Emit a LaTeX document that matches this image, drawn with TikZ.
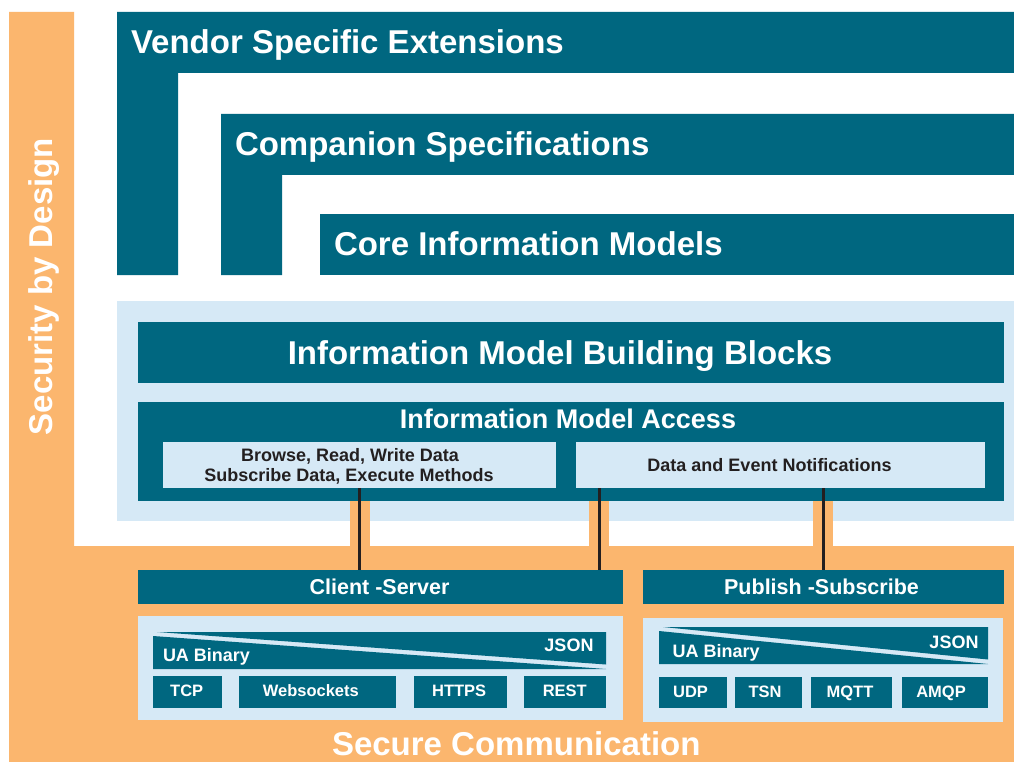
\documentclass[tikz,border=0pt]{standalone}
\usepackage{fontspec}
\setmainfont{Liberation Sans}
\definecolor{teal1}{RGB}{0,103,128}
\definecolor{lblue}{RGB}{214,233,246}
\definecolor{orng}{RGB}{251,182,110}
\definecolor{ink}{RGB}{35,31,32}
\begin{document}
\begin{tikzpicture}[x=1pt,y=-1pt,
  tb/.style={fill=teal1, draw=none, inner sep=0pt, outer sep=0pt, anchor=north west},
  lb/.style={fill=lblue, draw=none, inner sep=0pt, outer sep=0pt, anchor=north west},
  T/.style 2 args={inner sep=0pt, outer sep=0pt, font=\fontsize{#1}{#1}\selectfont\bfseries, text height=#2, text depth=0pt},
  link/.style={draw=ink, line width=3pt}]
\fill[white] (0,0) rectangle (1014,762);
\useasboundingbox (0,0) rectangle (1014,762);
% security by design / secure communication background
\fill[orng] (9,12) -- (74,12) -- (74,546) -- (1014,546) -- (1014,762) -- (9,762) -- cycle;
% information model layers
\fill[teal1] (117,12) -- (1014,12) -- (1014,73) -- (178,73) -- (178,275) -- (117,275) -- cycle;
\fill[teal1] (221,114) -- (1014,114) -- (1014,175) -- (282,175) -- (282,275) -- (221,275) -- cycle;
\node[tb, minimum width=694pt, minimum height=61pt] (core) at (320,214) {};
\node[lb, minimum width=897pt, minimum height=220pt] (panel) at (117,301) {};
% connector positions and orange strips
\coordinate (l1) at (359.5,0);
\coordinate (l2) at (599,0);
\coordinate (l3) at (823,0);
\fill[orng] (349.5,501) rectangle (369.5,546);
\fill[orng] (589,501) rectangle (609,546);
\fill[orng] (813,501) rectangle (833,546);
\node[tb, minimum width=866pt, minimum height=61pt] (bb) at (138,322) {};
\node[tb, minimum width=866pt, minimum height=99pt] (acc) at (138,402) {};
\node[lb, minimum width=393pt, minimum height=46pt] (brw) at (163,442) {};
\node[lb, minimum width=409pt, minimum height=46pt] (dev) at (576,442) {};
\node[tb, minimum width=485pt, minimum height=34pt] (cs) at (138,570) {};
\node[tb, minimum width=361pt, minimum height=34pt] (ps) at (643,570) {};
\node[lb, minimum width=485pt, minimum height=104pt] (csp) at (138,616) {};
\node[lb, minimum width=360pt, minimum height=104pt] (psp) at (643,618) {};
% UA Binary / JSON bars
\fill[teal1] (157,632) -- (606,632) -- (606,664.5) -- cycle;
\fill[teal1] (153,636) -- (606,669) -- (153,669) -- cycle;
\fill[teal1] (663,627) -- (988,627) -- (988,659.5) -- cycle;
\fill[teal1] (659,631) -- (988,664) -- (659,664) -- cycle;
% protocol boxes
\node[tb, minimum width=69pt, minimum height=32pt] (tcp) at (153,676) {};
\node[tb, minimum width=157pt, minimum height=32pt] (ws) at (239,676) {};
\node[tb, minimum width=93pt, minimum height=32pt] (https) at (414,676) {};
\node[tb, minimum width=82pt, minimum height=32pt] (rest) at (524,676) {};
\node[tb, minimum width=68pt, minimum height=31pt] (udp) at (659,677) {};
\node[tb, minimum width=67pt, minimum height=31pt] (tsn) at (735,677) {};
\node[tb, minimum width=81pt, minimum height=31pt] (mqtt) at (811,677) {};
\node[tb, minimum width=86pt, minimum height=31pt] (amqp) at (902,677) {};
% connectors
\draw[link] (brw.south -| l1) -- (cs.north -| l1);
\draw[link] (dev.south -| l2) -- (cs.north -| l2);
\draw[link] (dev.south -| l3) -- (ps.north -| l3);
% texts
\node[T={33}{23.6pt}, text=white, anchor=west] (tv) at (131,41.5) {Vendor Specific Extensions};
\node[T={33}{23.6pt}, text=white, anchor=west] (tc) at (235,143.5) {Companion Specifications};
\node[T={33}{23.6pt}, text=white, anchor=west] (tcore) at (334,243.5) {Core Information Models};
\node[T={33}{23.6pt}, text=white] (tbb) at (560,353) {Information Model Building Blocks};
\node[T={27}{19.3pt}, text=white] (tacc) at (568,418.5) {Information Model Access};
\node[T={18}{12.9pt}, text=ink] (tb1) at (350,455) {Browse, Read, Write Data};
\node[T={18}{12.9pt}, text=ink] (tb2) at (349,475) {Subscribe Data, Execute Methods};
\node[T={18}{12.9pt}, text=ink] (tdev) at (769.5,465) {Data and Event Notifications};
\node[T={21.5}{15.4pt}, text=white] (tcs) at (379.5,587) {Client -Server};
\node[T={21.5}{15.4pt}, text=white] (tps) at (821.5,587) {Publish -Subscribe};
\node[T={18}{12.9pt}, text=white, anchor=west] (tua1) at (163,655.5) {UA Binary};
\node[T={18}{12.9pt}, text=white, anchor=east] (tj1) at (593.5,645.5) {JSON};
\node[T={18}{12.9pt}, text=white, anchor=west] (tua2) at (672.7,651) {UA Binary};
\node[T={18}{12.9pt}, text=white, anchor=east] (tj2) at (978.5,642) {JSON};
\node[T={16.5}{11.8pt}, text=white] at (186.7,691) {TCP};
\node[T={16.5}{11.8pt}, text=white] at (310.8,691) {Websockets};
\node[T={16.5}{11.8pt}, text=white] at (459.2,691) {HTTPS};
\node[T={16.5}{11.8pt}, text=white] at (564.8,691) {REST};
\node[T={16.5}{11.8pt}, text=white] at (690.5,691.3) {UDP};
\node[T={16.5}{11.8pt}, text=white] at (765,691.3) {TSN};
\node[T={16.5}{11.8pt}, text=white] at (850,691.3) {MQTT};
\node[T={16.5}{11.8pt}, text=white] at (941,691.3) {AMQP};
\node[T={33}{23.6pt}, text=white] (tsc) at (516.3,743.3) {Secure Communication};
\node[T={33}{23.6pt}, text=white, rotate=90] (tsd) at (40.5,286.5) {Security by Design};
\end{tikzpicture}
\end{document}
